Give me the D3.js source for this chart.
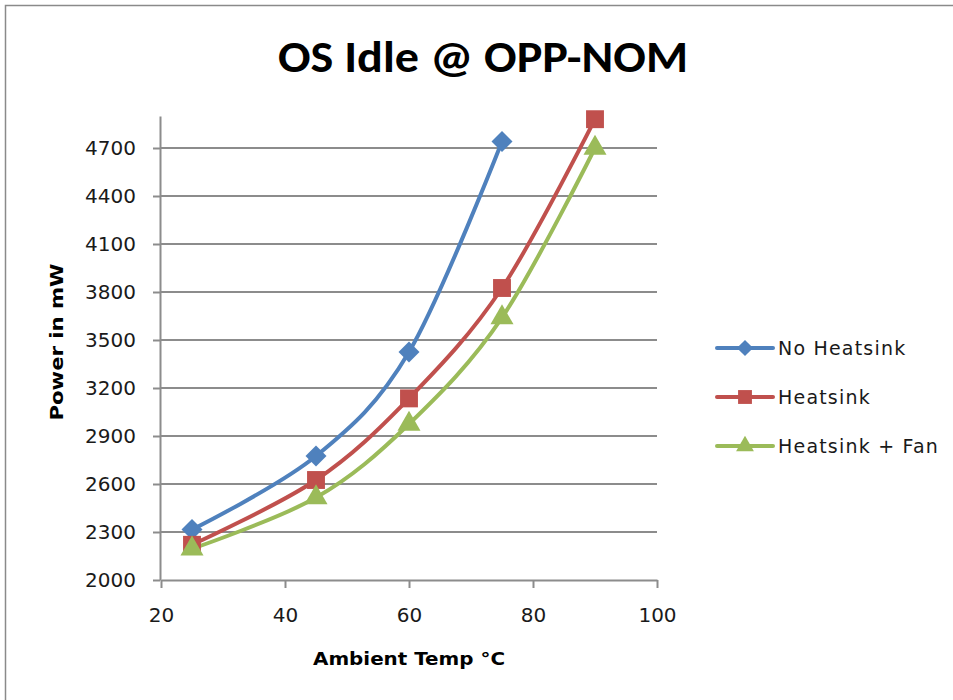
<!DOCTYPE html>
<html>
<head>
<meta charset="utf-8">
<script src="https://cdn.jsdelivr.net/npm/d3@7"></script>
<style>
  body { margin: 0; background: #fff; }
  svg { display: block; }
</style>
</head>
<body>
<svg id="chart" width="953" height="700"></svg>
<script>
// Data
const noHeatsinkTemps = [25, 45, 60, 75];
const noHeatsinkPower = [2315, 2775, 3425, 4740];
const heatsinkTemps = [25, 45, 60, 75, 90];
const heatsinkPower = [2220, 2625, 3135, 3825, 4880];
const fanTemps = [25, 45, 60, 75, 90];
const fanPower = [2195, 2515, 2975, 3640, 4700];
const xTicks = [20, 40, 60, 80, 100];
const yTicks = [2000, 2300, 2600, 2900, 3200, 3500, 3800, 4100, 4400, 4700];
const seriesNames = ['No Heatsink', 'Heatsink', 'Heatsink + Fan'];

const series = [
  { name: seriesNames[0], color: '#4F81BD', symbol: d3.symbolSquare, rot: 45, size: 220, xs: noHeatsinkTemps, ys: noHeatsinkPower },
  { name: seriesNames[1], color: '#C0504D', symbol: d3.symbolSquare, rot: 0, size: 320, xs: heatsinkTemps, ys: heatsinkPower },
  { name: seriesNames[2], color: '#9BBB59', symbol: d3.symbolTriangle, rot: 0, size: 230, xs: fanTemps, ys: fanPower }
];

const svg = d3.select('#chart');

// outer chart border
svg.append('rect')
  .attr('x', 5.5).attr('y', 5.5)
  .attr('width', 960).attr('height', 710)
  .attr('fill', 'none')
  .attr('stroke', '#8a8a8a')
  .attr('stroke-width', 1.5);

const plot = { left: 161, right: 657, top: 116, bottom: 580 };

const xScale = d3.scaleLinear().domain([20, 100]).range([plot.left, plot.right]);
const yScale = d3.scaleLinear().domain([2000, 4900]).range([plot.bottom, plot.top]);

// Title
svg.append('text')
  .attr('x', 483).attr('y', 72)
  .attr('text-anchor', 'middle')
  .attr('font-family', "Carlito, 'Noto Sans', sans-serif")
  .attr('font-weight', 'bold')
  .attr('font-size', 44)
  .attr('textLength', 410)
  .attr('lengthAdjust', 'spacingAndGlyphs')
  .text('OS Idle @ OPP-NOM');

// Gridlines
svg.append('g')
  .selectAll('line')
  .data(yTicks.slice(1))
  .enter()
  .append('line')
  .attr('x1', plot.left).attr('x2', plot.right)
  .attr('y1', d => yScale(d)).attr('y2', d => yScale(d))
  .attr('stroke', '#8c8c8c')
  .attr('stroke-width', 2);

// Y axis
const yAxis = svg.append('g')
  .attr('transform', `translate(${plot.left - 1},0)`)
  .call(d3.axisLeft(yScale).tickValues(yTicks).tickFormat(d3.format('d'))
    .tickSize(7).tickSizeOuter(0).tickPadding(17));
yAxis.select('.domain').attr('stroke', '#8c8c8c').attr('stroke-width', 2);
yAxis.selectAll('.tick line').attr('stroke', '#8c8c8c').attr('stroke-width', 2);
yAxis.selectAll('text')
  .attr('font-family', "'DejaVu Sans', sans-serif")
  .attr('font-size', 20)
  .attr('fill', '#1a1a1a');

// X axis
const xAxis = svg.append('g')
  .attr('transform', `translate(0,${plot.bottom})`)
  .call(d3.axisBottom(xScale).tickValues(xTicks).tickFormat(d3.format('d'))
    .tickSize(8).tickSizeOuter(0).tickPadding(20));
xAxis.select('.domain').attr('stroke', '#8c8c8c').attr('stroke-width', 2);
xAxis.selectAll('.tick line').attr('stroke', '#8c8c8c').attr('stroke-width', 2);
xAxis.selectAll('text')
  .attr('font-family', "'DejaVu Sans', sans-serif")
  .attr('font-size', 20)
  .attr('fill', '#1a1a1a');

// Axis titles
svg.append('text')
  .attr('transform', 'translate(63,342) rotate(-90)')
  .attr('text-anchor', 'middle')
  .attr('font-family', "'DejaVu Sans', sans-serif")
  .attr('font-weight', 'bold')
  .attr('font-size', 17)
  .attr('textLength', 157)
  .attr('lengthAdjust', 'spacingAndGlyphs')
  .text('Power in mW');

svg.append('text')
  .attr('x', 409).attr('y', 665)
  .attr('text-anchor', 'middle')
  .attr('font-family', "'DejaVu Sans', sans-serif")
  .attr('font-weight', 'bold')
  .attr('font-size', 18)
  .attr('textLength', 192)
  .attr('lengthAdjust', 'spacingAndGlyphs')
  .text('Ambient Temp °C');

// Lines (Excel-style smoothing)
const line = d3.line()
  .x(d => xScale(d[0]))
  .y(d => yScale(d[1]))
  .curve(d3.curveCardinal.tension(0));

series.forEach(s => {
  const pts = s.xs.map((x, i) => [x, s.ys[i]]);
  svg.append('path')
    .datum(pts)
    .attr('fill', 'none')
    .attr('stroke', s.color)
    .attr('stroke-width', 4)
    .attr('stroke-linejoin', 'round')
    .attr('d', line);
  s.pts = pts;
});

// Markers drawn after all lines
series.forEach(s => {
  svg.append('g')
    .selectAll('path')
    .data(s.pts)
    .enter()
    .append('path')
    .attr('transform', d => `translate(${xScale(d[0])},${yScale(d[1])}) rotate(${s.rot})`)
    .attr('d', d3.symbol().type(s.symbol).size(s.size))
    .attr('fill', s.color);
});

// Legend
const legend = svg.append('g').attr('transform', 'translate(717,348)');
series.forEach((s, i) => {
  const g = legend.append('g').attr('transform', `translate(0,${i * 49})`);
  g.append('line')
    .attr('x1', 0).attr('x2', 56)
    .attr('y1', 0).attr('y2', 0)
    .attr('stroke', s.color)
    .attr('stroke-width', 4)
    .attr('stroke-linecap', 'round');
  g.append('path')
    .attr('transform', `translate(28,0) rotate(${s.rot})`)
    .attr('d', d3.symbol().type(s.symbol).size(s.size * 0.6))
    .attr('fill', s.color);
  g.append('text')
    .attr('x', 61).attr('y', 7)
    .attr('font-family', "'DejaVu Sans', sans-serif")
    .attr('font-size', 19)
    .attr('letter-spacing', 1.2)
    .attr('fill', '#1a1a1a')
    .text(s.name);
});
</script>
</body>
</html>
